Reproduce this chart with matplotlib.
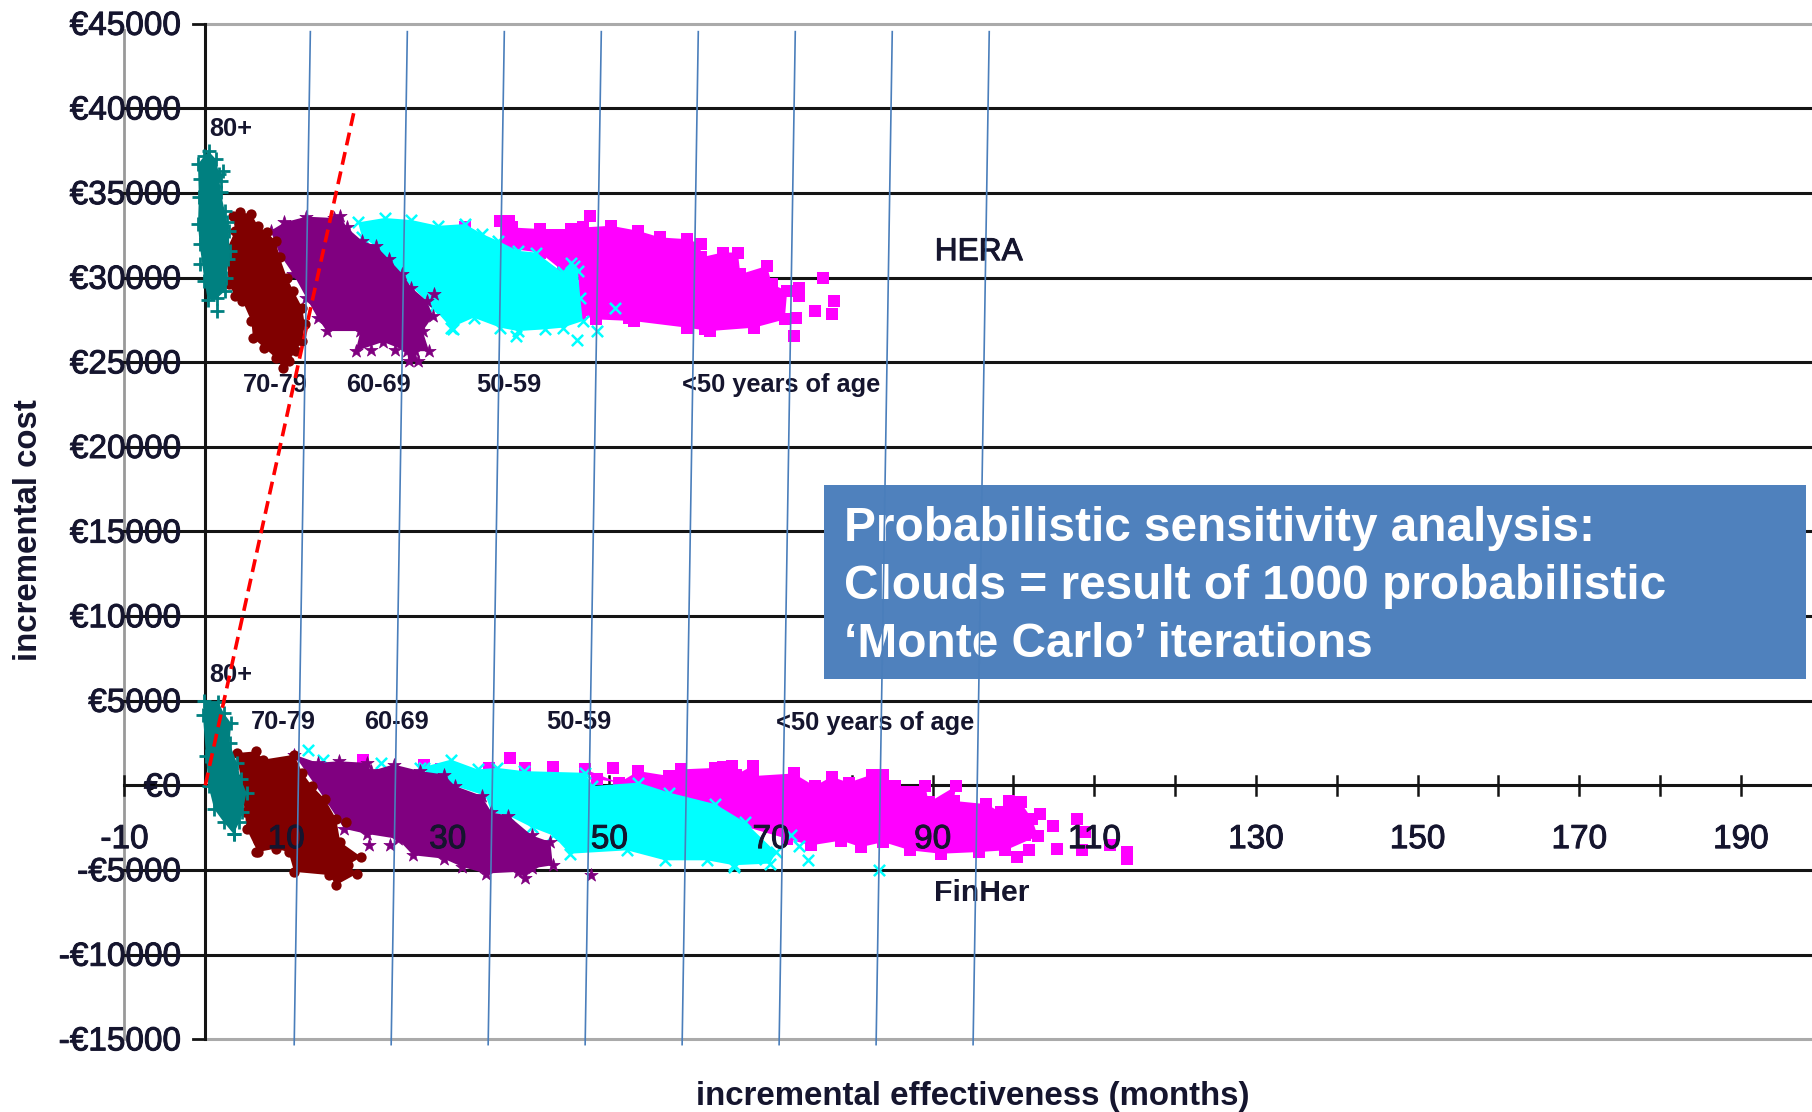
import matplotlib
matplotlib.use("Agg")
import matplotlib.pyplot as plt
import matplotlib.patheffects as pe
from matplotlib.patches import Rectangle

plt.rcParams["font.family"] = ["Liberation Sans", "DejaVu Sans"]

# axis values
cost_ticks = [45000, 40000, 35000, 30000, 25000, 20000, 15000, 10000, 5000, 0, -5000, -10000, -15000]
cost_labels = ["€45000", "€40000", "€35000", "€30000", "€25000", "€20000", "€15000", "€10000",
               "€5000", "€0", "-€5000", "-€10000", "-€15000"]
month_ticks = [-10, 10, 20, 30, 40, 50, 60, 70, 80, 90, 100, 110, 120, 130, 140, 150, 160, 170, 180, 190]
month_labels = [-10, 10, 30, 50, 70, 90, 110, 130, 150, 170, 190]

# threshold lines
blue_top = [13, 25, 37, 49, 61, 73, 85, 97]
blue_bottom = [11, 23, 35, 47, 59, 71, 83, 95]
red_x = [0, 18.4]
red_y = [0, 39800]

# HERA clouds: outline of each cloud, then the loose points
hera_teal_x = [0.4, 1.3, 1.7, 1.9, 2.4, 2.9, 3.0, 2.6, 2.4, 1.5, 0.3, -0.1, -0.7, -0.9, -0.8, -0.9, -0.1]
hera_teal_y = [37470, 37000, 36100, 35040, 33950, 32770, 31580, 30000, 29200, 28800, 28700, 29800, 31980, 33160, 34740, 36700, 37200]
hera_teal_px = [1.5, 2.2, 2.7, -0.7, -0.7, 1.9, 2.8]
hera_teal_py = [28000, 36300, 33300, 35800, 30800, 35700, 31100]

hera_maroon_x = [3.4, 4.3, 5.7, 6.5, 7.6, 8.7, 9.2, 10.1, 10.9, 12.0, 12.3, 12.0, 11.2, 10.3, 9.6, 8.7, 7.3, 5.9, 5.7, 4.6, 3.7, 2.9, 2.6, 3.7]
hera_maroon_y = [33650, 33850, 33750, 33060, 32670, 32170, 31190, 30000, 29210, 28220, 27230, 26250, 25650, 25060, 24670, 25260, 25850, 26440, 27430, 28620, 28910, 29600, 31580, 32770]
hera_maroon_px = []
hera_maroon_py = []

hera_purple_x = [8.1, 9.8, 12.5, 15.9, 16.7, 17.5, 19.4, 21.1, 22.7, 24.4, 25.5, 27.4, 28.2, 26.9, 27.7, 26.0, 26.3, 25.2, 24.9, 22.0, 18.6, 19.2, 15.0, 13.9, 12.5, 10.9, 9.2]
hera_purple_y = [32770, 33260, 33600, 33520, 33650, 32960, 32170, 31880, 31090, 30200, 29410, 28620, 27730, 26840, 25650, 25650, 25060, 25060, 25650, 26200, 25650, 26840, 26840, 27630, 28810, 30200, 31380]
hera_purple_px = [28.3, 20.5, 23.5]
hera_purple_py = [29050, 25700, 25700]

hera_cyan_x = [18.9, 22.2, 25.5, 28.8, 32.1, 34.3, 36.2, 38.7, 40.9, 44.2, 45.3, 46.1, 46.4, 46.7, 44.2, 42.0, 38.7, 36.5, 33.2, 30.4, 28.2, 24.4, 21.1, 19.4]
hera_cyan_y = [33260, 33520, 33400, 33060, 33160, 32570, 32170, 31580, 31480, 30300, 30890, 30400, 28810, 27430, 27040, 26940, 26840, 27040, 27630, 27040, 28220, 30000, 31880, 32370]
hera_cyan_px = [30.7, 38.4, 46.0, 48.5, 50.7, 45.6]
hera_cyan_py = [26940, 26540, 26300, 26840, 28220, 30700]

hera_pink_x = [36.5, 37.6, 37.9, 41.4, 45.3, 46.7, 50.2, 53.5, 56.3, 59.6, 61.3, 61.3, 64.0, 65.9, 66.2, 69.5, 70.1, 72.0, 71.7, 67.9, 62.4, 59.6, 53.0, 48.3, 46.4, 46.1, 44.2, 41.4, 36.5]
hera_pink_y = [33360, 33360, 32960, 32870, 32870, 32960, 33060, 32770, 32370, 32270, 31980, 31190, 31480, 31480, 30200, 30690, 29600, 29210, 27530, 27040, 26840, 27040, 27430, 27530, 27830, 30400, 30400, 31480, 31780]
hera_pink_px = [47.6, 76.4, 73.4, 73.4, 77.8, 75.5, 77.5, 73.1, 72.9, 61.8, 52.4, 32.1]
hera_pink_py = [33620, 30000, 29400, 28900, 28620, 28020, 27830, 27630, 26540, 26940, 27630, 33000]

# FinHer clouds
fin_teal_x = [-0.1, 1.6, 2.3, 3.2, 3.0, 3.9, 4.4, 5.1, 4.6, 4.2, 3.5, 2.3, 1.1, 0.4, 0.1, -0.3]
fin_teal_y = [4990, 4930, 4250, 3670, 2500, 1330, 350, -430, -1600, -2180, -2870, -2180, -1400, -40, 1720, 4150]
fin_teal_px = [3.5]
fin_teal_py = [-2870]

fin_maroon_x = [3.9, 6.3, 7.2, 11.0, 12.0, 13.2, 14.8, 16.2, 16.7, 19.3, 17.6, 18.8, 16.2, 15.3, 11.0, 10.3, 8.7, 6.5, 5.1, 4.9, 4.4]
fin_maroon_y = [1910, 2010, 1520, 1810, 740, -40, -820, -1990, -3350, -4230, -4720, -5210, -5890, -5300, -5110, -3940, -3740, -3940, -2570, -1600, 350]
fin_maroon_px = [17.4, 6.5, 6.3]
fin_maroon_py = [-2180, -3300, -3940]

fin_purple_x = [11.0, 13.9, 16.5, 20.0, 20.5, 23.3, 26.6, 29.5, 30.9, 34.2, 35.4, 37.5, 40.4, 42.7, 43.0, 40.4, 39.6, 38.7, 34.7, 31.8, 29.5, 25.7, 23.8, 20.0, 17.2, 14.8]
fin_purple_y = [1810, 1330, 1420, 1330, 840, 1230, 840, 640, -40, -620, -1600, -1790, -2960, -3350, -4720, -4910, -5500, -5110, -5210, -4820, -4330, -4130, -3160, -2870, -2570, -820]
fin_purple_px = [47.7, 20.2, 22.8]
fin_purple_py = [-5300, -3550, -3550]

fin_cyan_x = [26.6, 30.4, 33.7, 36.1, 39.4, 47.0, 47.9, 53.6, 57.4, 63.1, 66.8, 70.6, 69.9, 65.4, 62.1, 56.9, 52.2, 45.1, 43.0, 40.4, 37.5, 35.4, 34.7, 30.9]
fin_cyan_y = [1030, 1520, 940, 1030, 840, 740, -40, 160, -430, -1110, -2180, -3940, -4620, -4720, -4430, -4430, -3840, -4040, -2960, -2480, -1790, -1600, -620, -40]
fin_cyan_px = [12.7, 14.6, 21.7, 27.1, 74.6, 83.4, 65.4, 69.2, 72.5, 73.5]
fin_cyan_py = [2100, 1520, 1330, 1030, -4430, -5010, -4800, -4330, -2960, -3600]

fin_pink_x = [47.0, 48.5, 51.2, 53.6, 57.4, 58.8, 63.1, 65.2, 65.7, 67.8, 67.8, 72.8, 75.4, 77.5, 79.6, 82.5, 83.9, 85.3, 89.1, 89.5, 92.9, 92.6, 96.6, 98.5, 99.5, 100.9, 102.3, 103.0, 99.0, 95.7, 91.0, 87.2, 83.9, 81.1, 78.7, 74.9, 72.0, 60.0]
fin_pink_y = [940, 350, 160, 840, 550, 940, 1030, 1170, 640, 1170, 550, 700, -40, 510, 160, 640, 640, -40, -40, -1010, -40, -920, -1110, -1600, -920, -1010, -1990, -3000, -3840, -3940, -4040, -3840, -3350, -3650, -3260, -3550, -3160, -1500]
fin_pink_px = [19.5, 27.1, 29.2, 35.1, 37.7, 39.6, 43.0, 47.0, 50.5, 64.0, 103.3, 107.8, 105.4, 108.5, 112.0, 114.1, 114.1, 100.4, 101.9, 101.4, 104.9, 108.9]
fin_pink_py = [1520, 1230, 940, 1030, 1620, 1030, 1090, 940, 1030, 1090, -1700, -1990, -3740, -3840, -3550, -3940, -4330, -4230, -3840, -2960, -2380, -2770]

# labels inside the chart (centre x, centre y)
hera_names = ["80+", "70-79", "60-69", "50-59", "<50 years of age"]
hera_name_x = [3.2, 8.7, 21.4, 37.6, 71.3]
hera_name_y = [38800, 23630, 23630, 23630, 23630]
fin_name_x = [3.2, 9.7, 23.7, 46.2, 82.9]
fin_name_y = [6500, 3770, 3770, 3770, 3700]

box_lines = ["Probabilistic sensitivity analysis:",
             "Clouds = result of 1000 probabilistic",
             "\u2018Monte Carlo\u2019 iterations"]

W, H = 1812, 1112
fig = plt.figure(figsize=(W / 100, H / 100), dpi=100)
ax = fig.add_axes([0, 0, 1, 1])
ax.set_xlim(-25.4, 198.8)
ax.set_ylim(-19300, 46400)
ax.axis("off")

dark = "#141414"
text_col = "#15152e"
# the source is a blurry screenshot, a thin stroke gets the text weight closer
blur = [pe.withStroke(linewidth=0.7, foreground=text_col)]

# gridlines and axes
ax.plot([-10, -10], [44600, -15000], color="#999999", lw=2, zorder=1)
for c in cost_ticks:
    if c in (45000, -15000):
        ax.plot([0, 200], [c, c], color="#aaaaaa", lw=2.2, zorder=1)
        ax.plot([-1.5, 0], [c, c], color=dark, lw=2, zorder=2)
    else:
        ax.plot([-10, 200], [c, c], color=dark, lw=2.2, zorder=2)
ax.plot([0, 0], [45000, -15000], color=dark, lw=2.2, zorder=2)
for m in month_ticks:
    ax.plot([m, m], [-600, 550], color=dark, lw=1.8, zorder=2)
ax.plot([-6.9], [0], marker="o", ms=6, color="black", zorder=2)

for c, lab in zip(cost_ticks, cost_labels):
    ax.text(-3.0, c + 50, lab, ha="right", va="center_baseline", fontsize=24, color=text_col, zorder=6,
            path_effects=blur)
for m in month_labels:
    ax.text(m, -3000, str(m), ha="center", va="center_baseline", fontsize=24, color=text_col, zorder=6,
            path_effects=blur)


def draw_cloud(x, y, px, py, color, marker, size, lw):
    ax.fill(x, y, color=color, lw=0, zorder=3)
    ax.scatter(x + px, y + py, s=size, marker=marker, color=color, linewidths=lw, zorder=3)


# same order as the series were plotted, last one stays on top
for cx, cy, px, py in [(hera_pink_x, hera_pink_y, hera_pink_px, hera_pink_py),
                       (fin_pink_x, fin_pink_y, fin_pink_px, fin_pink_py)]:
    draw_cloud(cx, cy, px, py, "#ff00ff", "s", 70, 0)
for cx, cy, px, py in [(hera_cyan_x, hera_cyan_y, hera_cyan_px, hera_cyan_py),
                       (fin_cyan_x, fin_cyan_y, fin_cyan_px, fin_cyan_py)]:
    draw_cloud(cx, cy, px, py, "#00ffff", "x", 65, 1.8)
for cx, cy, px, py in [(hera_purple_x, hera_purple_y, hera_purple_px, hera_purple_py),
                       (fin_purple_x, fin_purple_y, fin_purple_px, fin_purple_py)]:
    draw_cloud(cx, cy, px, py, "#800080", "*", 100, 0.5)
for cx, cy, px, py in [(hera_maroon_x, hera_maroon_y, hera_maroon_px, hera_maroon_py),
                       (fin_maroon_x, fin_maroon_y, fin_maroon_px, fin_maroon_py)]:
    draw_cloud(cx, cy, px, py, "#800000", "o", 55, 0)
for cx, cy, px, py in [(hera_teal_x, hera_teal_y, hera_teal_px, hera_teal_py),
                       (fin_teal_x, fin_teal_y, fin_teal_px, fin_teal_py)]:
    draw_cloud(cx, cy, px, py, "#008080", "+", 90, 2.0)

# age group labels
for name, x, y in zip(hera_names, hera_name_x, hera_name_y):
    ax.text(x, y, name, ha="center", va="center", fontsize=18.3, fontweight="bold", color=text_col, zorder=6)
for name, x, y in zip(hera_names, fin_name_x, fin_name_y):
    ax.text(x, y, name, ha="center", va="center", fontsize=18.3, fontweight="bold", color=text_col, zorder=6)
ax.text(95.7, 31500, "HERA", ha="center", va="center", fontsize=22.8, color=text_col, zorder=6, path_effects=blur)
ax.text(96.1, -6350, "FinHer", ha="center", va="center", fontsize=21.8, fontweight="bold", color=text_col, zorder=6)

# threshold lines
ax.plot(red_x, red_y, color="#ff0000", lw=2.6, dashes=(3.6, 1.9), zorder=7)

# box goes under the blue lines, they show only where they cross the white text
box = Rectangle((824 / W, 1 - 679 / H), 982 / W, 194 / H, transform=fig.transFigure,
                facecolor="#4f81bd", edgecolor="none", zorder=8)
ax.add_patch(box)
for line, base in zip(box_lines, [541, 599, 657]):
    ax.text(844 / W, 1 - base / H, line, transform=fig.transFigure, ha="left", va="baseline",
            fontsize=34.4, fontweight="bold", color="white", zorder=9)

for t, b in zip(blue_top, blue_bottom):
    ax.plot([t, b], [44530, -15320], color="#4a7ebb", lw=1.2, zorder=10)

# axis titles
ax.text(29 / W, 1 - 530 / H, "incremental cost", transform=fig.transFigure, rotation=90,
        ha="center", va="center", fontsize=23.8, fontweight="bold", color=text_col)
ax.text(973 / W, 1 - 1097 / H, "incremental effectiveness (months)", transform=fig.transFigure,
        ha="center", va="center", fontsize=23.8, fontweight="bold", color=text_col)

fig.savefig("out.png", dpi=100)
